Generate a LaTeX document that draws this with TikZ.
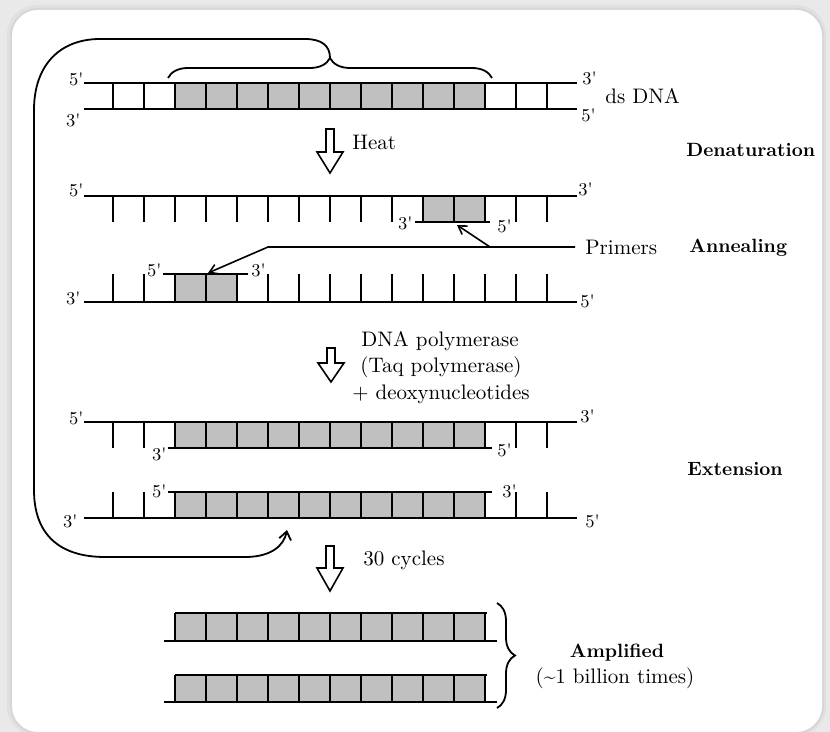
\documentclass[tikz,border=0pt]{standalone}
\usetikzlibrary{arrows.meta,decorations.pathreplacing}
\definecolor{boxgray}{HTML}{C0C0C0}
\definecolor{bggray}{HTML}{E9E9E9}
\begin{document}
\begin{tikzpicture}[x=0.5pt,y=-0.5pt,
  strand/.style={line width=0.9pt},
  rung/.style={line width=0.9pt},
  gbox/.style={fill=boxgray},
  endlbl/.style={inner sep=0pt, font=\fontsize{9}{10}\selectfont},
  txt/.style={inner sep=0pt, font=\fontsize{10.5}{12}\selectfont},
  stage/.style={inner sep=0pt, font=\fontsize{9.6}{12}\selectfont\bfseries},
  ptr/.style={line width=0.8pt, -{Straight Barb[length=4pt,width=5pt]}},
  loopline/.style={line width=0.9pt, -{Straight Barb[length=4pt,width=6pt]}},
  bracestyle/.style={line width=0.9pt, decorate, decoration={brace, amplitude=#1}},
  pics/harrow/.style n args={2}{code={
    \draw[line width=0.8pt, fill=white, line join=miter]
      (-4,0) -- (4,0) -- (4,#1-#2) -- (13,#1-#2) -- (0,#1) -- (-13,#1-#2) -- (-4,#1-#2) -- cycle;}}
]
\useasboundingbox (0,0) rectangle (830,732);
% background card
\fill[bggray] (0,0) rectangle (830,732);
\fill[black!12, rounded corners=15pt] (7,5) rectangle (826,736);
\fill[black!16, rounded corners=14pt] (10,8) rectangle (824,734);
\fill[white, rounded corners=13pt] (12,10) rectangle (822,732);

% ---------- Row 1: ds DNA ----------
\fill[gbox] (175,83) rectangle (485,109);
\foreach \x in {113,144,...,547} \draw[rung] (\x,83) -- (\x,109);
\draw[strand] (84,83) -- (577,83);
\draw[strand] (84,109) -- (577,109);
\node[endlbl, anchor=base east] (r1l5) at (84,86) {5\textquotesingle};
\node[endlbl, anchor=base east] (r1l3) at (81,127) {3\textquotesingle};
\node[endlbl, anchor=base west] (r1r3) at (582,85) {3\textquotesingle};
\node[endlbl, anchor=base west] (r1r5) at (581,122) {5\textquotesingle};
\node[txt, anchor=base west] (dsdna) at (605,104) {ds DNA};

% brace and loop
\coordinate (bl) at (168,78);
\coordinate (br) at (492,78);
\draw[bracestyle=10pt] (bl) -- (br);
\coordinate (btip) at (330,58);
\coordinate (ltarget) at (287,530);
\draw[loopline] (btip) .. controls (330,46) and (322,39) .. (305,39) -- (100,39)
  .. controls (60,39) and (34,65) .. (34,110) -- (34,490)
  .. controls (34,535) and (60,557) .. (105,557) -- (245,557)
  .. controls (272,557) and (284,545) .. (ltarget);

% Heat
\pic at (330,129) {harrow={44}{21}};
\node[txt, anchor=base west] (heat) at (352,150) {Heat};
\node[stage, anchor=base west] (denat) at (686,157) {Denaturation};

% ---------- Row 2: top strand + primer ----------
\fill[gbox] (423,196) rectangle (485,222);
\foreach \x in {113,144,...,547} \draw[rung] (\x,196) -- (\x,222);
\draw[strand] (84,196) -- (577,196);
\draw[strand] (415,222) -- (490,222);
\node[endlbl, anchor=base east] (r2l5) at (84,197) {5\textquotesingle};
\node[endlbl, anchor=base west] (r2r3) at (578,196) {3\textquotesingle};
\node[endlbl, anchor=base east] (p1l3) at (413,230) {3\textquotesingle};
\node[endlbl, anchor=base west] (p1r5) at (497,233) {5\textquotesingle};

% Primers
\node[txt, anchor=west] (primers) at (585,247) {Primers};
\node[stage, anchor=base west] (anneal) at (689,253) {Annealing};
\coordinate (pa) at (208,273);
\coordinate (pb) at (457,225);
\coordinate (pbs) at (490,247);
\draw[ptr] ([xshift=-5pt]primers.west) -- (268,247) -- (pa);
\draw[ptr] (pbs) -- (pb);

% ---------- Row 3: bottom strand + primer ----------
\fill[gbox] (175,274) rectangle (237,302);
\foreach \x in {113,144,...,547} \draw[rung] (\x,274) -- (\x,302);
\draw[strand] (84,302) -- (577,302);
\draw[strand] (163,274) -- (248,274);
\node[endlbl, anchor=base east] (r3l3) at (81,305) {3\textquotesingle};
\node[endlbl, anchor=base east] (p2l5) at (162,277) {5\textquotesingle};
\node[endlbl, anchor=base west] (p2r3) at (251,277) {3\textquotesingle};
\node[endlbl, anchor=base west] (r3r5) at (580,308) {5\textquotesingle};

% polymerase
\pic at (331,348) {harrow={34}{19}};
\node[txt, anchor=base] (poly1) at (440,347) {DNA polymerase};
\node[txt, anchor=base] (poly2) at (441,373) {(Taq polymerase)};
\node[txt, anchor=base] (poly3) at (441,400) {+ deoxynucleotides};

% ---------- Row 4 ----------
\fill[gbox] (175,422) rectangle (485,448);
\foreach \x in {113,144,...,547} \draw[rung] (\x,422) -- (\x,448);
\draw[strand] (84,422) -- (577,422);
\draw[strand] (168,448) -- (492,448);
\node[endlbl, anchor=base east] (r4l5) at (84,425) {5\textquotesingle};
\node[endlbl, anchor=base east] (r4p3) at (167,461) {3\textquotesingle};
\node[endlbl, anchor=base west] (r4r3) at (580,423) {3\textquotesingle};
\node[endlbl, anchor=base west] (r4p5) at (497,457) {5\textquotesingle};

\node[stage, anchor=base west] (ext) at (687,475) {Extension};

% ---------- Row 5 ----------
\fill[gbox] (175,492) rectangle (485,518);
\foreach \x in {113,144,...,547} \draw[rung] (\x,492) -- (\x,518);
\draw[strand] (84,518) -- (577,518);
\draw[strand] (168,492) -- (492,492);
\node[endlbl, anchor=base east] (r5p5) at (167,497) {5\textquotesingle};
\node[endlbl, anchor=base west] (r5p3) at (502,497) {3\textquotesingle};
\node[endlbl, anchor=base east] (r5l3) at (78,527) {3\textquotesingle};
\node[endlbl, anchor=base west] (r5r5) at (585,527) {5\textquotesingle};

% 30 cycles
\pic at (330,546) {harrow={45}{23}};
\node[txt, anchor=base west] (cycles) at (363,566) {30 cycles};

% ---------- Amplified ----------
\fill[gbox] (175,613) rectangle (485,641);
\foreach \x in {175,206,...,485} \draw[rung] (\x,613) -- (\x,641);
\draw[strand] (175,613) -- (487,613);
\draw[strand] (164,641) -- (497,641);
\fill[gbox] (175,675) rectangle (485,702);
\foreach \x in {175,206,...,485} \draw[rung] (\x,675) -- (\x,702);
\draw[strand] (175,675) -- (487,675);
\draw[strand] (164,702) -- (497,702);
\coordinate (rbt) at (497,603);
\coordinate (rbb) at (497,708);
\draw[bracestyle=9pt] (rbt) -- (rbb);
\node[stage, anchor=base] (amp) at (617,657) {Amplified};
\node[txt, anchor=base] (times) at (615,683) {(\textasciitilde1 billion times)};
\end{tikzpicture}
\end{document}
